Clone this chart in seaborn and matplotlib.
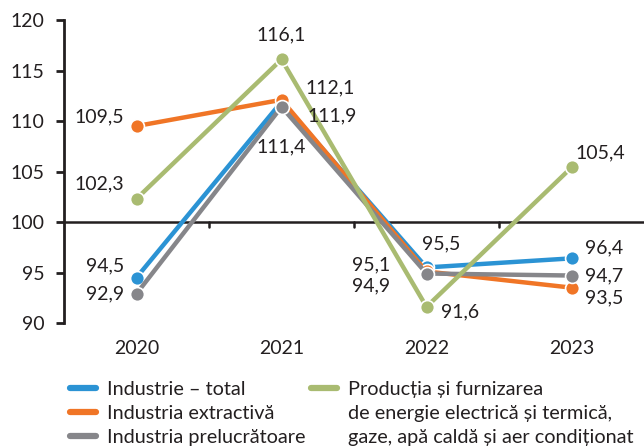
import matplotlib
matplotlib.use("Agg")
import matplotlib.pyplot as plt
import pandas as pd
import seaborn as sns
from matplotlib.lines import Line2D

years = ["2020", "2021", "2022", "2023"]
total = [94.5, 111.9, 95.5, 96.4]
extractiva = [109.5, 112.1, 95.1, 93.5]
prelucratoare = [92.9, 111.4, 94.9, 94.7]
energie = [102.3, 116.1, 91.6, 105.4]

series_names = [
    "Industrie – total",
    "Industria extractivă",
    "Industria prelucrătoare",
    "Producția și furnizarea",
]
colors = ["#2B93D4", "#F07526", "#86868A", "#A9BB71"]
energie_extra = [
    "de energie electrică și termică,",
    "gaze, apă caldă și aer condiționat",
]

# label offsets in pixels (dx, dy, ha) per series per year
offsets = [
    [(-12, 12, "right"), (26, -14, "left"), (15, 24, "center"), (14, 10, "left")],
    [(-12, 9, "right"), (24, 12, "left"), (-36, 7, "right"), (14, -10, "left")],
    [(-12, 0, "right"), (0, -40, "center"), (-36, -12, "right"), (14, 0, "left")],
    [(-12, 15, "right"), (0, 25, "center"), (14, -5, "left"), (4, 15, "left")],
]

sns.set_style("white")
plt.rcParams["font.family"] = ["Lato", "DejaVu Sans"]

df = pd.DataFrame({
    "an": years * 4,
    "valoare": total + extractiva + prelucratoare + energie,
    "serie": sum([[n] * 4 for n in series_names], []),
})
df["x"] = df["an"].map({y: i for i, y in enumerate(years)})

fig = plt.figure(figsize=(6.44, 4.48), dpi=100)
ax = fig.add_axes([64 / 644, 1 - 323 / 448, 1 - 64 / 644, (323 - 20) / 448])

sns.lineplot(
    data=df, x="x", y="valoare", hue="serie", hue_order=series_names,
    palette=colors, linewidth=3.2, marker="o", markersize=10,
    markeredgecolor="white", markeredgewidth=1.2, legend=False, ax=ax,
    sort=False,
)

for i, vals in enumerate([total, extractiva, prelucratoare, energie]):
    for j, v in enumerate(vals):
        dx, dy, ha = offsets[i][j]
        ax.annotate(f"{v:.1f}".replace(".", ","), (j, v), xytext=(dx, dy),
                    textcoords="offset pixels", ha=ha, va="center",
                    fontsize=14, color="#231F20")

ax.set_xlim(-0.5, 3.5)
ax.set_ylim(90, 120)
ax.set_yticks(range(90, 121, 5))
ax.set_xticks([])
ax.set_xlabel("")
ax.set_ylabel("")
for s in ["top", "right", "bottom"]:
    ax.spines[s].set_visible(False)
ax.spines["left"].set_linewidth(2)
ax.spines["left"].set_color("#231F20")
ax.tick_params(axis="y", left=True, length=6, width=2, color="#231F20",
               labelsize=14, labelcolor="#231F20", pad=8)

# category axis crossing at 100
ax.axhline(100, color="#231F20", linewidth=1.8, zorder=1)
for b in [0.5, 1.5, 2.5]:
    ax.plot([b, b], [100, 99.5], color="#231F20", linewidth=1.8, zorder=1)
for j, y in enumerate(years):
    ax.text(j, 87.5, y, ha="center", va="center", fontsize=14,
            color="#231F20", clip_on=False)

handles = [Line2D([], [], color=c, linewidth=4.5, solid_capstyle="round")
           for c in colors]
blank = Line2D([], [], color="none")
leg = fig.legend(
    handles[:3] + [handles[3], blank, blank],
    series_names[:3] + [series_names[3]] + energie_extra,
    ncol=2, loc="upper left", bbox_to_anchor=(60 / 644, 1 - 371 / 448),
    frameon=False, fontsize=14.3, handlelength=1.3, handletextpad=0.55,
    columnspacing=0.3, labelspacing=0.36, borderpad=0, labelcolor="#231F20",
)

fig.savefig("out.png", dpi=100)
